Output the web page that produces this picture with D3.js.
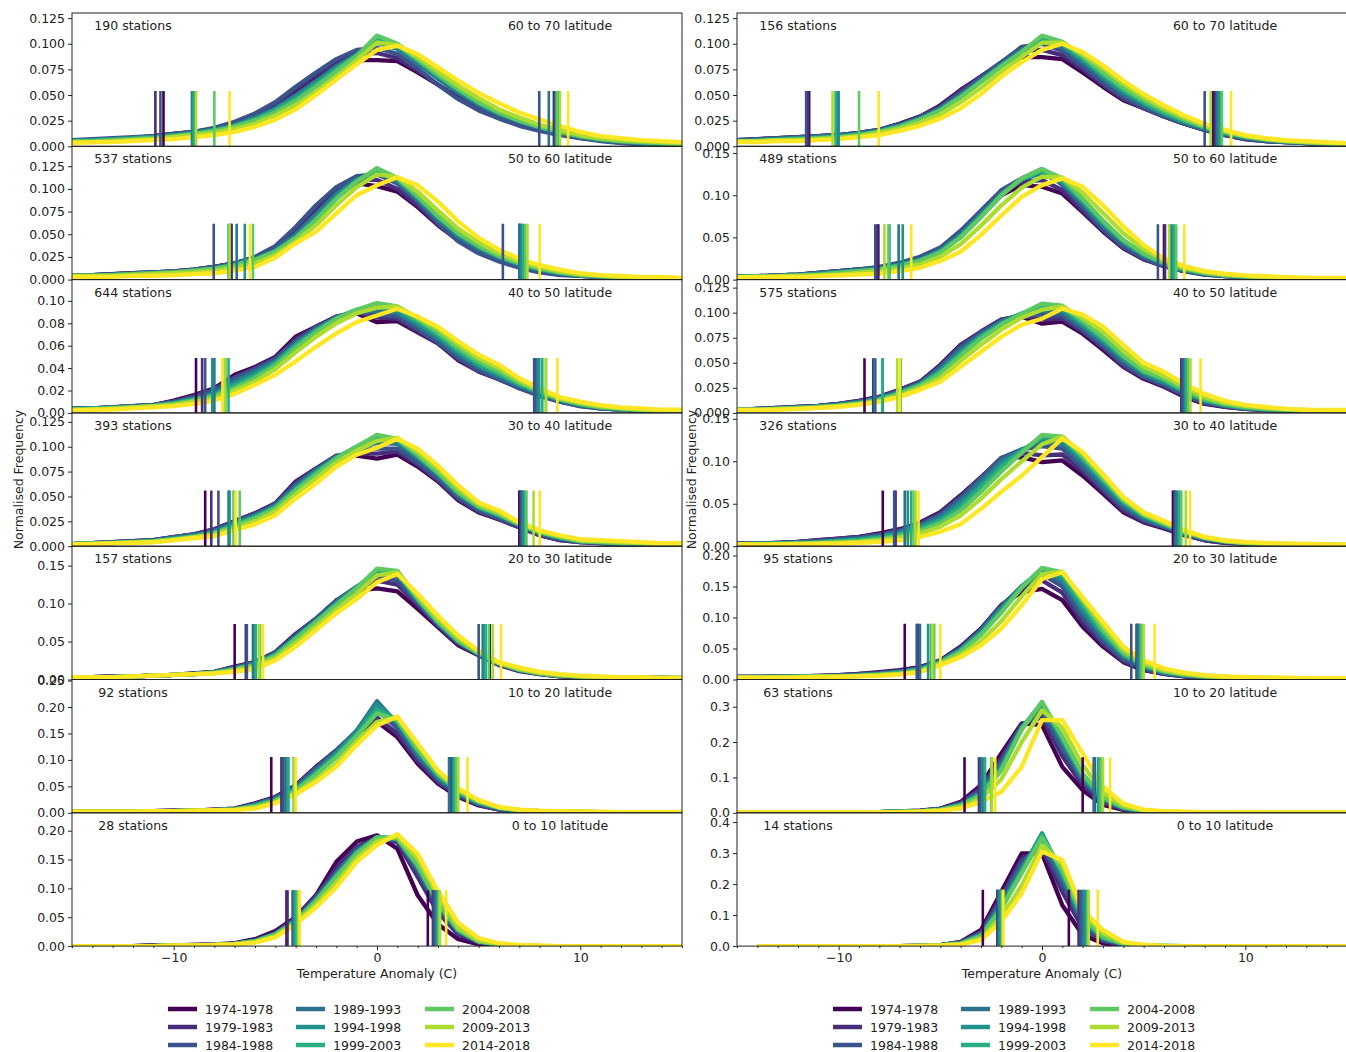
<!DOCTYPE html>
<html>
<head>
<meta charset="utf-8">
<script src="https://cdn.jsdelivr.net/npm/d3@7"></script>
<style>
body { margin: 0; background: #fff; }
text { font-family: "DejaVu Sans", sans-serif; fill: #222; }
</style>
</head>
<body>
<script>
// bin centres (C) and the nine five-year periods
const bins = [-15,-14,-13,-12,-11,-10,-9,-8,-7,-6,-5,-4,-3,-2,-1,0,1,2,3,4,5,6,7,8,9,10,11,12,13,14,15];
const periods = ["1974-1978","1979-1983","1984-1988","1989-1993","1994-1998","1999-2003","2004-2008","2009-2013","2014-2018"];
const bands = ["60 to 70","50 to 60","40 to 50","30 to 40","20 to 30","10 to 20","0 to 10"];
const stationsLeft = [190, 537, 644, 393, 157, 92, 28];
const stationsRight = [156, 489, 575, 326, 95, 63, 14];
const yMaxLeft = [0.130, 0.147, 0.119, 0.134, 0.1755, 0.252, 0.231];
const yMaxRight = [0.130, 0.158, 0.133, 0.157, 0.215, 0.377, 0.43];
const yStepLeft = [0.025, 0.025, 0.02, 0.025, 0.05, 0.05, 0.05];
const yStepRight = [0.025, 0.05, 0.025, 0.05, 0.05, 0.1, 0.1];

// normalised frequency, in thousandths, one row per period
const left70 = [
[5,6,7,8,10,12,14,17,23,30,40,54,68,79,84,84,83,72,60,48,38,30,24,18,13,9,6,4,3,2,1],
[5,6,7,8,10,12,14,17,23,30,41,56,70,82,90,91,86,74,60,47,37,29,22,17,12,8,6,4,3,2,1],
[6,7,8,9,10,12,14,18,24,32,43,58,72,85,94,96,90,76,60,46,35,27,20,15,11,8,5,3,2,1,1],
[5,6,7,8,9,11,13,16,21,28,37,50,64,78,90,101,95,81,66,52,40,31,24,18,13,9,6,4,3,2,1],
[5,6,7,8,9,11,13,16,20,27,36,48,62,76,89,103,97,83,68,54,42,32,25,19,14,10,7,5,3,2,2],
[5,5,6,7,9,10,12,15,20,26,35,46,60,75,88,105,98,84,69,55,43,33,25,19,14,10,7,5,4,3,2],
[5,5,6,7,8,10,12,15,19,25,33,44,58,73,88,108,100,85,70,56,43,33,25,19,14,10,7,5,4,3,2],
[4,4,5,6,7,9,11,13,17,22,30,40,53,68,84,101,99,87,73,59,47,36,28,21,16,11,8,6,5,4,3],
[3,4,4,5,6,7,9,11,14,19,26,36,50,65,80,94,98,90,77,64,52,42,33,26,20,14,10,8,6,5,4]];
const left70Lo = [-10.5,-10.9,-10.65,-9.1,-9.05,-9.0,-8.0,-8.9,-7.25];
const left70Hi = [8.75,8.7,7.98,8.45,8.8,8.9,8.85,9.0,9.4];

const left60 = [
[5,5,6,7,8,9,11,14,18,24,35,53,76,95,106,103,97,80,60,43,31,22,15,10,6,4,3,2,1,1,0],
[5,5,6,7,8,9,11,14,18,24,35,54,78,98,110,110,100,82,61,44,31,22,15,10,6,4,3,2,1,1,0],
[5,5,6,7,8,9,11,14,18,25,37,58,82,102,114,116,106,86,62,42,29,20,13,8,5,4,3,2,1,1,0],
[4,5,5,6,7,8,10,13,17,23,33,50,72,95,111,118,108,88,66,47,34,24,16,11,7,5,3,2,2,1,1],
[4,4,5,6,7,8,10,12,16,22,31,47,69,92,110,120,110,90,68,49,35,25,17,11,7,5,3,2,2,1,1],
[4,4,5,6,7,8,10,12,16,21,30,45,66,90,109,121,112,92,70,51,37,26,18,12,8,5,4,3,2,1,1],
[4,4,5,6,7,8,10,12,16,22,31,46,66,89,108,123,112,92,70,51,37,26,18,12,8,5,4,3,2,1,1],
[4,4,4,5,6,7,8,10,13,18,27,42,60,82,102,116,113,97,76,56,41,29,20,14,9,6,4,3,2,2,1],
[3,3,3,4,4,5,6,7,10,14,24,40,53,73,93,104,113,104,86,64,46,33,23,16,11,7,5,4,3,3,2]];
const left60Lo = [-7.2,-7.15,-8.03,-6.9,-6.5,-7.3,-6.1,-7.25,-6.25];
const left60Hi = [7.0,7.05,6.19,7.0,7.1,7.2,7.3,7.4,8.0];

const left50 = [
[4,4,5,6,7,11,16,22,34,41,50,68,77,86,89,81,82,72,62,47,37,30,23,16,11,7,4,3,2,1,1],
[4,4,5,6,7,10,15,21,32,40,49,66,77,86,90,85,84,73,62,48,37,30,22,16,10,6,4,3,2,1,1],
[4,4,5,6,7,10,14,20,31,39,48,64,76,85,90,88,86,75,63,49,38,30,22,15,10,6,4,3,2,1,1],
[4,4,5,6,7,9,13,18,28,37,46,62,75,85,91,91,89,78,66,52,41,32,24,17,11,7,5,3,2,2,1],
[3,4,4,5,6,9,12,17,26,35,45,61,74,85,92,94,91,80,68,54,42,34,25,18,12,7,5,3,2,2,1],
[3,4,4,5,6,8,12,16,24,33,44,60,73,84,92,96,93,82,70,56,44,35,26,18,12,8,5,4,3,2,1],
[3,3,4,5,6,8,11,15,22,31,42,58,72,84,92,98,95,84,72,58,46,37,27,19,12,8,5,4,3,2,2],
[3,3,4,5,6,7,10,13,20,28,39,54,68,80,89,94,95,85,75,61,49,40,29,20,13,9,6,4,3,2,2],
[2,3,3,4,5,6,8,11,17,25,34,46,59,71,81,87,93,86,77,64,52,43,31,22,14,10,7,5,4,3,3]];
const left50Lo = [-8.9,-8.6,-8.45,-8.0,-8.1,-7.3,-7.45,-7.5,-7.6];
const left50Hi = [7.8,7.75,7.73,7.85,7.98,8.13,8.3,8.32,8.87];

const left40 = [
[2,3,4,5,6,9,12,17,25,33,43,65,78,90,91,88,92,80,65,46,34,27,19,11,6,4,3,2,2,1,1],
[2,3,4,5,6,9,12,17,25,33,43,64,78,91,93,93,95,82,66,47,35,27,19,11,6,4,3,2,2,1,1],
[2,3,4,5,6,9,12,16,24,32,42,62,77,90,95,98,98,84,68,49,36,28,20,12,7,4,3,2,2,1,1],
[2,3,4,4,5,8,11,15,23,31,41,60,76,90,97,104,103,88,71,51,38,30,21,13,8,5,4,3,2,2,1],
[2,3,3,4,5,8,10,14,22,30,40,58,75,89,99,110,106,90,73,53,39,31,22,14,8,5,4,3,2,2,1],
[2,3,3,4,5,7,10,14,21,29,39,57,74,89,100,111,107,91,74,54,40,32,22,14,9,5,4,3,3,2,2],
[2,3,3,4,5,7,9,13,20,28,38,56,72,88,100,112,108,92,74,54,40,32,22,14,9,5,4,3,3,2,2],
[2,2,3,4,4,6,9,12,18,25,35,52,68,84,96,106,109,95,78,58,42,34,23,15,10,6,5,4,3,2,2],
[2,2,3,3,4,6,8,10,16,22,31,48,63,80,92,99,108,98,81,61,44,36,24,16,11,7,6,5,4,3,3]];
const left40Lo = [-8.45,-8.15,-7.8,-7.3,-7.25,-7.05,-6.75,-7.0,-6.95];
const left40Hi = [7.0,7.05,7.1,7.15,7.2,7.3,7.35,7.7,8.0];

const left30 = [
[3,3,4,4,5,6,8,10,17,23,36,60,80,104,117,120,116,93,69,45,32,19,11,7,4,3,3,2,2,2,1],
[3,3,4,4,5,6,8,10,16,23,35,59,80,104,120,130,125,98,71,47,33,20,12,7,4,3,3,2,2,2,1],
[3,3,4,4,5,6,7,10,16,22,35,58,80,104,122,136,130,101,72,48,33,20,12,8,5,4,3,2,2,2,1],
[3,3,3,4,5,6,7,9,15,21,34,56,78,102,122,140,136,104,74,50,34,21,12,8,5,4,3,2,2,2,1],
[3,3,3,4,5,6,7,9,14,20,33,55,77,100,121,143,139,105,75,50,34,21,13,8,5,4,3,2,2,2,2],
[3,3,3,4,5,6,7,9,14,20,32,54,76,99,121,144,141,106,76,51,34,21,13,8,5,4,3,3,2,2,2],
[3,3,3,4,5,6,7,9,13,19,31,53,75,98,120,146,143,107,76,51,34,21,13,8,5,4,3,3,2,2,2],
[3,3,3,4,5,6,7,8,12,17,28,48,70,92,113,137,141,110,80,55,36,22,14,9,6,4,3,3,2,2,2],
[3,3,3,4,5,6,7,8,10,14,25,43,65,87,106,128,139,113,84,58,38,23,16,10,7,5,4,3,3,2,2]];
const left30Lo = [-7.0,-6.45,-6.4,-6.1,-6.0,-5.95,-5.75,-5.8,-5.6];
const left30Hi = [5.55,5.3,5.0,5.2,5.25,5.35,5.5,5.7,6.1];

const left20 = [
[2,2,2,3,3,4,4,6,8,18,30,52,87,118,150,172,143,93,55,30,14,6,3,2,1,1,1,0,0,0,0],
[2,2,2,3,3,4,4,6,8,17,29,51,86,118,152,180,150,98,58,32,15,6,3,2,1,1,1,0,0,0,0],
[2,2,2,3,3,4,4,5,7,16,28,50,84,118,155,195,160,105,62,34,16,7,4,2,2,1,1,1,0,0,0],
[2,2,2,3,3,3,4,5,7,15,27,47,80,115,155,211,168,110,66,36,18,8,4,3,2,1,1,1,0,0,0],
[2,2,2,2,3,3,4,5,6,14,25,45,77,112,152,205,172,114,69,38,19,9,5,3,2,1,1,1,1,0,0],
[2,2,2,2,3,3,4,5,6,13,24,43,74,108,148,195,175,118,72,40,20,9,5,3,2,2,1,1,1,1,0],
[2,2,2,2,3,3,4,5,6,12,23,42,72,105,145,188,175,120,73,41,21,10,5,3,2,2,1,1,1,1,1],
[2,2,2,2,3,3,4,5,6,10,20,38,63,93,135,172,180,128,78,44,23,10,5,3,2,2,1,1,1,1,1],
[2,2,2,2,3,3,4,5,5,8,18,35,58,87,128,165,182,131,80,46,24,11,6,4,3,2,2,1,1,1,1]];
const left20Lo = [-5.2,-4.7,-4.6,-4.5,-4.4,-4.35,-4.1,-4.05,-4.0];
const left20Hi = [3.55,3.6,3.65,3.55,3.75,3.8,3.9,4.0,4.45];

const left10 = [
[0,0,0,0,1,1,2,3,5,12,26,50,88,146,181,192,169,88,38,12,3,1,0,0,0,0,0,0,0,0,0],
[0,0,0,0,1,1,2,3,4,10,23,48,86,135,172,188,180,120,58,20,6,2,1,0,0,0,0,0,0,0,0],
[0,0,0,0,1,1,1,2,4,9,22,46,84,128,168,186,184,130,65,24,7,2,1,0,0,0,0,0,0,0,0],
[0,0,0,0,0,1,1,2,4,9,21,45,82,125,165,187,185,135,70,26,8,3,1,0,0,0,0,0,0,0,0],
[0,0,0,0,0,1,1,2,4,9,21,44,80,123,163,189,186,138,72,27,8,3,1,0,0,0,0,0,0,0,0],
[0,0,0,0,0,1,1,2,4,8,20,43,79,121,161,189,187,140,74,28,8,3,1,0,0,0,0,0,0,0,0],
[0,0,0,0,0,1,1,2,4,8,20,43,78,120,160,188,187,140,75,28,8,3,1,0,0,0,0,0,0,0,0],
[0,0,0,0,0,1,1,2,3,7,17,40,72,110,152,182,190,152,88,32,10,4,1,0,0,0,0,0,0,0,0],
[0,0,0,0,0,1,1,2,3,6,15,38,67,102,146,175,194,160,95,40,14,5,2,1,0,0,0,0,0,0,0]];
const left10Lo = [-4.45,-4.4,-4.15,-4.1,-4.05,-4.0,-3.9,-3.85,-3.8];
const left10Hi = [2.5,2.75,2.8,2.9,2.95,3.0,3.05,3.1,3.4];

const right70 = [
[6,7,8,9,10,11,13,16,22,29,40,55,68,81,87,87,85,72,58,45,37,29,22,16,11,7,5,4,3,2,1],
[6,7,8,9,10,11,13,16,22,29,39,54,68,82,93,94,89,75,60,46,37,29,22,16,11,7,5,4,3,2,1],
[6,7,8,9,10,11,13,16,21,28,38,52,67,82,97,100,93,78,62,48,38,29,22,16,11,8,5,4,3,2,1],
[5,6,7,8,9,10,12,15,20,27,37,50,65,80,94,103,97,82,66,51,40,31,23,17,12,8,6,4,3,2,2],
[5,6,7,8,9,10,12,15,20,27,36,49,64,79,93,105,99,84,68,53,42,32,24,18,13,9,6,5,4,3,2],
[5,5,6,7,8,9,11,14,19,26,35,48,63,78,92,106,100,86,70,55,43,33,25,18,13,9,7,5,4,3,2],
[5,5,6,7,8,9,11,14,19,26,35,48,63,78,92,108,102,88,72,57,45,35,26,19,14,10,7,5,4,3,2],
[5,5,6,6,7,8,10,13,17,23,31,43,57,73,87,101,101,90,76,61,48,37,28,20,15,10,7,5,4,3,3],
[4,4,5,5,6,7,9,11,15,20,27,37,51,68,82,94,100,92,79,64,51,40,30,22,16,11,8,6,5,4,3]];
const right70Lo = [-11.45,-11.5,-11.6,-10.05,-10.0,-10.15,-9.0,-10.3,-8.03];
const right70Hi = [8.4,8.5,8.0,8.6,8.7,8.8,8.85,8.3,9.3];

const right60 = [
[4,4,5,6,8,10,12,14,19,25,35,53,76,100,112,110,102,80,57,37,24,16,10,7,4,3,2,1,1,0,0],
[4,4,5,6,8,10,12,14,19,26,36,55,79,103,116,118,106,82,58,38,25,16,10,6,4,3,2,1,1,0,0],
[4,4,5,6,8,10,12,15,20,27,38,58,82,106,120,131,112,86,60,39,25,16,10,6,4,3,2,1,1,0,0],
[4,4,5,6,7,9,11,13,18,24,35,54,78,103,119,126,114,90,64,43,28,18,11,7,5,3,2,1,1,1,0],
[3,4,4,5,7,9,11,13,17,23,34,52,76,101,119,128,116,92,66,45,29,19,12,7,5,3,2,2,1,1,1],
[3,4,4,5,6,8,10,12,17,23,33,51,75,100,119,129,118,94,68,46,30,19,12,8,5,4,3,2,1,1,1],
[3,4,4,5,6,8,10,12,16,22,32,50,74,100,120,131,120,96,70,47,31,20,13,8,5,4,3,2,1,1,1],
[3,3,4,4,5,6,8,10,13,18,27,42,64,88,109,122,121,103,79,55,36,23,14,9,6,4,3,2,2,1,1],
[3,3,3,3,4,5,6,7,10,14,22,33,53,76,98,112,120,110,88,63,41,25,16,10,7,5,4,3,2,2,2]];
const right60Lo = [-8.05,-8.1,-8.2,-7.05,-6.85,-7.5,-7.55,-7.75,-6.43];
const right60Hi = [6.0,6.05,5.7,6.3,6.4,6.5,6.6,6.25,7.0];

const right50 = [
[3,4,5,6,7,9,12,16,23,31,48,68,81,93,96,89,91,79,63,46,34,26,16,9,6,4,3,2,1,1,1],
[3,4,5,6,7,9,12,16,23,31,47,67,81,93,97,93,94,81,65,47,35,27,17,10,6,4,3,2,1,1,1],
[3,4,5,6,7,9,11,15,22,30,46,66,80,92,98,98,97,83,67,49,36,28,18,10,7,4,3,2,1,1,1],
[3,4,4,5,6,8,11,15,21,29,44,63,78,91,99,102,100,86,70,52,38,30,20,12,7,5,3,2,2,1,1],
[3,3,4,5,6,8,10,14,20,28,42,61,77,90,99,105,103,88,72,54,40,31,21,12,8,5,4,3,2,2,1],
[3,3,4,5,6,7,10,13,20,28,41,59,76,89,99,107,105,90,74,56,41,33,22,13,8,5,4,3,2,2,2],
[3,3,4,5,6,7,9,13,19,27,39,57,74,88,99,109,107,92,76,57,42,34,23,14,9,6,4,3,2,2,2],
[3,3,4,4,5,7,9,12,17,25,35,52,68,83,95,103,106,95,81,62,46,37,26,16,10,7,5,4,3,2,2],
[3,3,3,4,5,6,8,11,16,23,31,46,61,76,88,94,104,98,86,68,50,41,29,19,12,8,6,4,3,3,3]];
const right50Lo = [-8.73,-8.3,-8.2,-8.25,-7.83,-7.85,-6.95,-7.12,-7.0];
const right50Hi = [6.9,6.85,6.9,7.0,7.05,7.1,7.2,7.3,7.8];

const right40 = [
[3,3,4,5,7,9,11,15,20,28,40,60,81,103,105,99,101,83,62,40,28,21,13,7,4,3,2,2,1,1,1],
[3,3,4,5,7,9,11,14,19,27,39,59,81,104,110,107,108,88,65,42,29,22,14,7,4,3,2,2,1,1,1],
[3,3,4,5,6,8,10,13,18,25,37,57,80,104,114,118,115,92,68,45,31,23,14,8,5,3,2,2,1,1,1],
[2,3,3,4,5,7,9,12,17,24,35,54,77,101,114,123,120,97,72,48,33,24,15,9,5,4,3,2,2,1,1],
[2,3,3,4,5,6,8,11,15,22,32,50,73,97,113,127,124,101,76,51,35,25,16,9,6,4,3,2,2,1,1],
[2,2,3,3,4,6,7,10,14,20,30,46,69,93,112,129,127,104,78,53,36,26,17,10,6,4,3,2,2,2,1],
[2,2,3,3,4,5,6,8,12,18,27,42,64,88,110,131,129,106,80,54,37,27,17,10,6,4,3,2,2,2,1],
[2,2,2,3,3,4,5,7,10,15,23,36,56,79,100,120,129,109,83,56,38,28,18,10,6,4,3,3,2,2,2],
[2,2,2,2,3,3,4,5,7,11,17,26,44,64,83,105,127,111,85,58,40,30,19,11,7,5,4,3,3,2,2]];
const right40Lo = [-7.83,-7.2,-7.27,-6.75,-6.6,-6.43,-6.3,-6.22,-6.07];
const right40Hi = [6.44,6.5,6.55,6.6,6.7,6.75,6.85,7.07,7.28];

const right30 = [
[4,4,5,5,6,7,9,12,15,20,31,53,82,120,141,146,128,85,53,28,15,9,5,3,2,2,1,1,1,1,1],
[4,4,5,5,6,7,9,11,14,19,30,52,81,120,146,160,140,92,57,30,16,9,5,3,2,2,1,1,1,1,1],
[4,4,4,5,5,6,8,10,13,18,30,50,80,118,150,170,150,100,62,33,18,10,6,4,3,2,2,1,1,1,1],
[4,4,4,5,5,6,7,9,12,17,29,49,78,116,150,174,158,108,68,37,20,11,7,4,3,2,2,1,1,1,1],
[3,4,4,4,5,6,7,9,12,17,28,48,76,113,150,177,163,114,72,39,21,12,7,5,3,3,2,2,1,1,1],
[3,3,4,4,5,5,6,8,11,16,27,46,74,110,149,179,168,120,76,41,23,13,8,5,4,3,2,2,1,1,1],
[3,3,4,4,5,5,6,8,10,15,27,45,72,108,148,180,173,126,80,43,24,13,8,5,4,3,2,2,2,1,1],
[3,3,3,4,4,5,6,7,9,13,25,40,62,94,134,170,174,130,87,48,27,15,9,6,4,3,3,2,2,2,1],
[3,3,3,3,4,4,5,6,8,12,23,36,55,82,120,162,173,133,93,53,31,18,11,7,5,4,3,3,2,2,2]];
const right30Lo = [-6.75,-6.1,-6.16,-6.0,-5.6,-5.45,-5.3,-5.4,-5.0];
const right30Hi = [4.7,4.65,4.39,4.7,4.8,4.85,4.9,5.0,5.54];

const right20 = [
[0,0,1,1,1,1,2,2,4,6,12,31,78,168,253,248,130,64,22,8,3,1,0,0,0,0,0,0,0,0,0],
[0,0,1,1,1,1,2,2,4,6,11,28,70,155,250,270,160,78,29,10,3,1,0,0,0,0,0,0,0,0,0],
[0,0,1,1,1,1,2,2,3,5,10,26,65,145,245,285,180,88,34,12,4,2,1,0,0,0,0,0,0,0,0],
[0,1,1,1,1,1,2,2,3,5,10,24,58,135,242,300,195,95,38,13,4,2,1,1,0,0,0,0,0,0,0],
[0,1,1,1,1,1,1,2,3,5,9,22,55,130,240,310,205,100,40,14,5,2,1,1,1,0,0,0,0,0,0],
[0,1,1,1,1,1,1,2,3,4,8,21,52,125,238,312,210,105,42,15,5,2,1,1,1,1,0,0,0,0,0],
[0,1,1,1,1,1,1,2,3,4,8,20,50,120,235,314,215,110,45,16,6,3,2,1,1,1,1,1,1,1,1],
[1,1,1,1,1,1,1,2,2,4,7,16,40,95,200,290,240,135,58,20,7,4,2,1,1,1,1,1,1,1,1],
[1,1,1,1,1,1,1,2,2,3,6,12,31,59,130,262,262,168,74,26,9,5,3,2,1,1,1,1,1,1,1]];
const right20Lo = [-3.81,-3.1,-3.05,-2.93,-2.85,-2.8,-2.5,-2.46,-2.3];
const right20Hi = [2.0,2.55,2.6,2.56,2.76,2.8,2.89,3.0,3.35];

const right10 = [
[null,0,0,0,0,0,0,0,0,1,3,14,52,175,299,299,132,36,9,2,0,0,0,0,0,0,0,0,0,0,0],
[null,0,0,0,0,0,0,0,0,1,3,12,46,160,282,315,175,58,16,4,1,0,0,0,0,0,0,0,0,0,0],
[null,0,0,0,0,0,0,0,0,1,3,11,42,150,270,330,200,70,20,5,1,0,0,0,0,0,0,0,0,0,0],
[null,0,0,0,0,0,0,0,0,1,2,10,38,138,255,345,220,80,24,6,1,0,0,0,0,0,0,0,0,0,0],
[null,0,0,0,0,0,0,0,0,1,2,9,36,130,245,364,230,85,26,7,2,0,0,0,0,0,0,0,0,0,0],
[null,0,0,0,0,0,0,0,0,1,2,8,34,125,240,358,238,90,28,7,2,1,0,0,0,0,0,0,0,0,0],
[null,0,0,0,0,0,0,0,0,1,2,8,32,120,235,350,245,95,30,8,2,1,0,0,0,0,0,0,0,0,0],
[null,0,0,0,0,0,0,0,0,1,2,6,24,95,195,325,265,108,42,11,3,1,0,0,0,0,0,0,0,0,0],
[null,0,0,0,0,0,0,0,0,1,2,5,19,79,170,305,278,116,52,14,5,1,0,0,0,0,0,0,0,0,0]];
const right10Lo = [-2.91,-2.2,-2.18,-2.1,-2.09,-2.0,-1.95,-1.93,-1.9];
const right10Hi = [1.32,1.8,1.9,2.0,2.1,2.2,2.25,2.3,2.74];

const leftPanels = [
  {freq: left70, lo: left70Lo, hi: left70Hi},
  {freq: left60, lo: left60Lo, hi: left60Hi},
  {freq: left50, lo: left50Lo, hi: left50Hi},
  {freq: left40, lo: left40Lo, hi: left40Hi},
  {freq: left30, lo: left30Lo, hi: left30Hi},
  {freq: left20, lo: left20Lo, hi: left20Hi},
  {freq: left10, lo: left10Lo, hi: left10Hi}
];
const rightPanels = [
  {freq: right70, lo: right70Lo, hi: right70Hi},
  {freq: right60, lo: right60Lo, hi: right60Hi},
  {freq: right50, lo: right50Lo, hi: right50Hi},
  {freq: right40, lo: right40Lo, hi: right40Hi},
  {freq: right30, lo: right30Lo, hi: right30Hi},
  {freq: right20, lo: right20Lo, hi: right20Hi},
  {freq: right10, lo: right10Lo, hi: right10Hi}
];

const W = 610, H = 133.3, TOP = 13;
const color = i => d3.interpolateViridis(i / (periods.length - 1));

const svg = d3.select("body").append("svg")
  .attr("width", 1346)
  .attr("height", 1052);

function drawColumn(panels, stations, yMax, yStep, x0, tag, labelGap) {
  const x = d3.scaleLinear().domain([-15, 15]).range([0, W]);

  panels.forEach((p, k) => {
    const g = svg.append("g").attr("transform", `translate(${x0},${TOP + k * H})`);
    const y = d3.scaleLinear().domain([0, yMax[k]]).range([H, 0]);
    const id = `clip-${tag}-${k}`;
    g.append("clipPath").attr("id", id)
      .append("rect").attr("width", W).attr("height", H);
    const plot = g.append("g").attr("clip-path", `url(#${id})`);

    const line = d3.line()
      .defined(d => d[1] != null)
      .x(d => x(d[0]))
      .y(d => y(d[1] / 1000));

    p.freq.forEach((s, i) => {
      plot.append("path")
        .datum(s.map((v, j) => [bins[j], v]))
        .attr("d", line)
        .attr("fill", "none")
        .attr("stroke", color(i))
        .attr("stroke-width", 4.3)
        .attr("stroke-linejoin", "round");
    });

    // percentile markers, half the panel's peak height
    const half = d3.max(p.freq.flat()) / 2000;
    p.freq.forEach((s, i) => {
      [p.lo[i], p.hi[i]].forEach(v => {
        plot.append("line")
          .attr("x1", x(v)).attr("x2", x(v))
          .attr("y1", y(0)).attr("y2", y(half))
          .attr("stroke", color(i))
          .attr("stroke-width", 2.6);
      });
    });

    // y axis
    const nt = Math.floor(yMax[k] / yStep[k] + 1e-6);
    const dec = yStep[k] === 0.025 ? 3 : yStep[k] === 0.1 ? 1 : 2;
    const ya = g.append("g")
      .call(d3.axisLeft(y)
        .tickValues(d3.range(nt + 1).map(t => t * yStep[k]))
        .tickFormat(d3.format(`.${dec}f`))
        .tickSize(4).tickPadding(3).tickSizeOuter(0));
    ya.select(".domain").remove();
    ya.selectAll("text").attr("font-size", 12.5).style("fill", "#222");
    ya.selectAll("line").attr("stroke", "#222");

    // frame
    g.append("rect").attr("width", W).attr("height", H)
      .attr("fill", "none").attr("stroke", "#222").attr("stroke-width", 1);

    g.append("text").attr("x", x(-12)).attr("y", 12.5)
      .attr("text-anchor", "middle").attr("dominant-baseline", "central")
      .attr("font-size", 12.5).text(`${stations[k]} stations`);
    g.append("text").attr("x", x(9)).attr("y", 12.5)
      .attr("text-anchor", "middle").attr("dominant-baseline", "central")
      .attr("font-size", 12.5).text(`${bands[k]} latitude`);

    if (k === panels.length - 1) {
      const xa = g.append("g").attr("transform", `translate(0,${H})`)
        .call(d3.axisBottom(x).tickValues([-10, 0, 10]).tickSize(4).tickPadding(3).tickSizeOuter(0));
      xa.select(".domain").remove();
      xa.selectAll("text").attr("font-size", 12.5).style("fill", "#222");
      xa.selectAll("line").attr("stroke", "#222");
      const minor = g.append("g").attr("transform", `translate(0,${H})`)
        .call(d3.axisBottom(x).tickValues(bins.filter(b => b % 10 !== 0)).tickSize(2).tickFormat(""));
      minor.select(".domain").remove();
      minor.selectAll("line").attr("stroke", "#222");

      g.append("text").attr("x", W / 2).attr("y", H + 27)
        .attr("text-anchor", "middle").attr("dominant-baseline", "central")
        .attr("font-size", 12.5).text("Temperature Anomaly (C)");
    }
  });

  svg.append("text")
    .attr("transform", `translate(${x0 - labelGap},${TOP + H * panels.length / 2}) rotate(-90)`)
    .attr("text-anchor", "middle").attr("dominant-baseline", "central")
    .attr("font-size", 12.5).text("Normalised Frequency");

  // legend: three columns of three
  const colOff = [96, 224, 353];
  const rowY = [1009, 1027, 1045];
  const lg = svg.append("g").attr("transform", `translate(${x0},0)`);
  periods.forEach((name, i) => {
    const cx = colOff[Math.floor(i / 3)], cy = rowY[i % 3];
    lg.append("line").attr("x1", cx).attr("x2", cx + 29)
      .attr("y1", cy).attr("y2", cy)
      .attr("stroke", color(i)).attr("stroke-width", 4.5);
    lg.append("text").attr("x", cx + 37).attr("y", cy)
      .attr("dominant-baseline", "central").attr("font-size", 12.5).text(name);
  });
}

drawColumn(leftPanels, stationsLeft, yMaxLeft, yStepLeft, 72, "l", 54);
drawColumn(rightPanels, stationsRight, yMaxRight, yStepRight, 737, "r", 46);
</script>
</body>
</html>
